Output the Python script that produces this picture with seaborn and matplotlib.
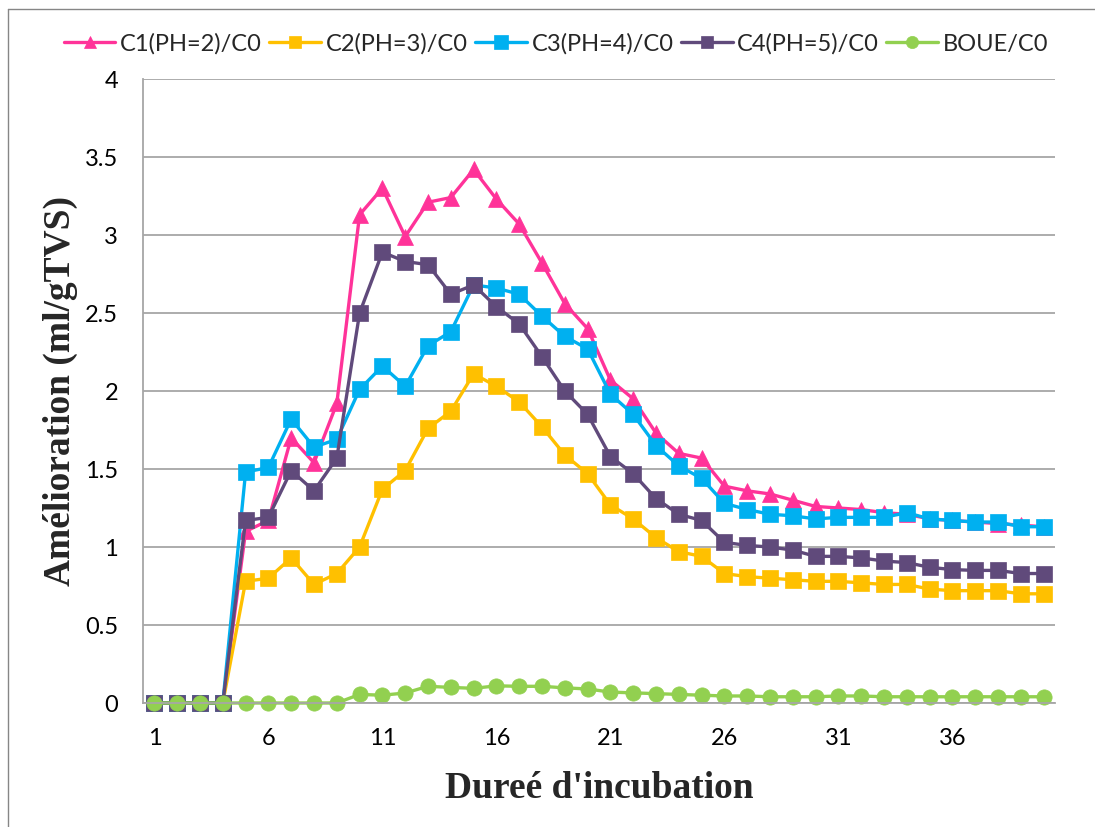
import numpy as np
import pandas as pd
import matplotlib
matplotlib.use("Agg")
import matplotlib.pyplot as plt
from matplotlib.lines import Line2D
import seaborn as sns

days = list(range(1, 41))
c1 = [0, 0, 0, 0, 1.10, 1.17, 1.70, 1.54, 1.92, 3.13, 3.30, 2.99, 3.21, 3.24, 3.42, 3.23, 3.07, 2.82, 2.56, 2.40,
      2.07, 1.95, 1.73, 1.60, 1.57, 1.39, 1.36, 1.34, 1.30, 1.26, 1.25, 1.24, 1.22, 1.21, 1.18, 1.17, 1.16, 1.15, 1.14, 1.13]
c2 = [0, 0, 0, 0, 0.78, 0.80, 0.93, 0.76, 0.83, 1.00, 1.37, 1.49, 1.76, 1.87, 2.11, 2.03, 1.93, 1.77, 1.59, 1.47,
      1.27, 1.18, 1.06, 0.97, 0.94, 0.83, 0.81, 0.80, 0.79, 0.78, 0.78, 0.77, 0.76, 0.76, 0.73, 0.72, 0.72, 0.72, 0.70, 0.70]
c3 = [0, 0, 0, 0, 1.48, 1.51, 1.82, 1.64, 1.69, 2.01, 2.16, 2.03, 2.29, 2.38, 2.68, 2.66, 2.62, 2.48, 2.35, 2.27,
      1.98, 1.85, 1.65, 1.52, 1.44, 1.28, 1.24, 1.21, 1.20, 1.18, 1.19, 1.19, 1.19, 1.22, 1.18, 1.17, 1.16, 1.16, 1.13, 1.13]
c4 = [0, 0, 0, 0, 1.17, 1.19, 1.49, 1.36, 1.57, 2.50, 2.89, 2.83, 2.81, 2.62, 2.68, 2.54, 2.43, 2.22, 2.00, 1.85,
      1.58, 1.47, 1.31, 1.21, 1.17, 1.03, 1.01, 1.00, 0.98, 0.94, 0.94, 0.93, 0.91, 0.90, 0.87, 0.855, 0.85, 0.85, 0.83, 0.83]
boue = [0, 0, 0, 0, 0, 0, 0, 0, 0, 0.055, 0.05, 0.064, 0.107, 0.10, 0.094, 0.11, 0.107, 0.107, 0.097, 0.09,
        0.07, 0.065, 0.06, 0.055, 0.05, 0.045, 0.045, 0.04, 0.04, 0.04, 0.045, 0.045, 0.04, 0.04, 0.04, 0.04, 0.04, 0.04, 0.04, 0.04]

labels = ["C1(PH=2)/C0", "C2(PH=3)/C0", "C3(PH=4)/C0", "C4(PH=5)/C0", "BOUE/C0"]
series = [c1, c2, c3, c4, boue]
colors = ["#FF3399", "#FFC000", "#00B0F0", "#604A7B", "#92D050"]
markers = ["^", "s", "s", "s", "o"]
msizes = [11.5, 11, 12, 11, 11]

x_ticks = [1, 6, 11, 16, 21, 26, 31, 36]
y_ticks = [0, 0.5, 1, 1.5, 2, 2.5, 3, 3.5, 4]
y_tick_labels = ["0", "0.5", "1", "1.5", "2", "2.5", "3", "3.5", "4"]

sns.set_theme(style="white")
plt.rcParams["font.family"] = ["Lato", "DejaVu Sans"]

W, H = 1095, 827
fig = plt.figure(figsize=(W / 100, H / 100), dpi=100)
ax = fig.add_axes([143 / W, 1 - 703 / H, (1055 - 143) / W, (703 - 79) / H])

handles = []
for lab, s, col, mk, ms in zip(labels, series, colors, markers, msizes):
    df = pd.DataFrame({"x": days, "y": s})
    sns.lineplot(data=df, x="x", y="y", ax=ax, color=col, marker=mk, markersize=ms,
                 markeredgecolor=col, markeredgewidth=0.5, linewidth=2.4, legend=False,
                 clip_on=False)
    handles.append(Line2D([], [], color=col, marker=mk, markersize=ms * 0.8,
                          markeredgecolor=col, markeredgewidth=0.5, linewidth=2.4, label=lab))

ax.set_xlim(0.5, 40.5)
ax.set_ylim(0, 4)
ax.set_xticks(x_ticks)
ax.set_xticklabels([str(t) for t in x_ticks])
ax.set_yticks(y_ticks)
ax.set_yticklabels(y_tick_labels)
ax.tick_params(axis="both", length=0, labelsize=17, colors="black")
ax.tick_params(axis="x", pad=18)
ax.tick_params(axis="y", pad=18)
ax.grid(axis="y", color="#A6A6A6", linewidth=1.3)
ax.grid(axis="x", visible=False)
ax.set_axisbelow(True)
for side in ["top", "right"]:
    ax.spines[side].set_visible(False)
for side in ["left", "bottom"]:
    ax.spines[side].set_visible(True)
    ax.spines[side].set_color("#A6A6A6")
    ax.spines[side].set_linewidth(1.3)

ax.set_xlabel("Dureé d'incubation", fontsize=27, fontweight="bold",
              family=["Liberation Serif", "DejaVu Serif"], labelpad=16)
ax.set_ylabel("Amélioration (ml/gTVS)", fontsize=27, fontweight="bold",
              family=["Liberation Serif", "DejaVu Serif"], labelpad=5)

fig.legend(handles=handles, loc="center", bbox_to_anchor=(556 / W, 1 - 44 / H), ncol=5,
           frameon=False, fontsize=17, handlelength=2.2, handletextpad=0.2, columnspacing=0.3)

# outer chart border (left and top edges visible)
fig.add_artist(Line2D([8 / W, 8 / W], [0, 1 - 9 / H], transform=fig.transFigure, color="#868686", linewidth=1))
fig.add_artist(Line2D([8 / W, 1], [1 - 9 / H, 1 - 9 / H], transform=fig.transFigure, color="#868686", linewidth=1))

fig.savefig("out.png", dpi=100, facecolor="white")
